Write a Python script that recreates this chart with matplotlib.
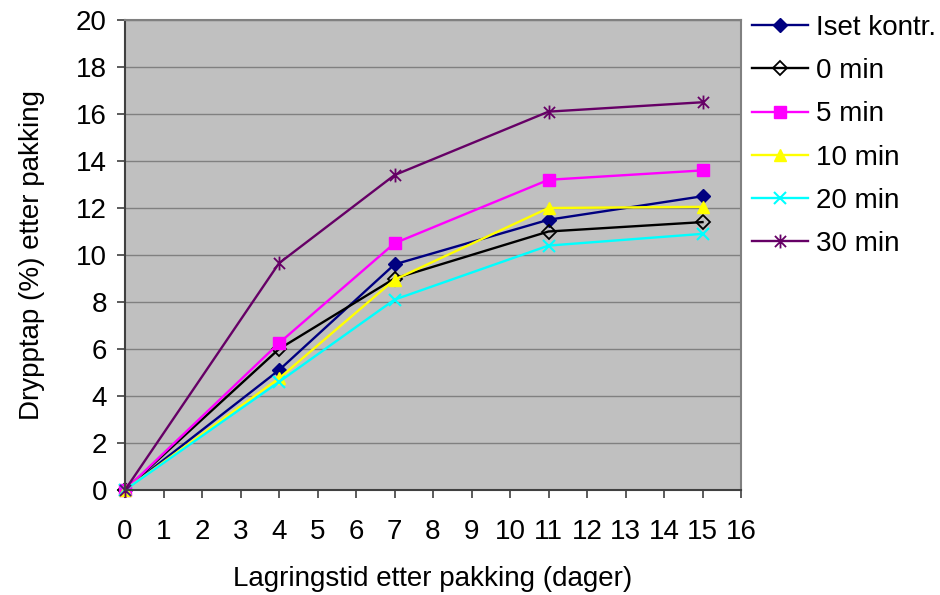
import matplotlib
matplotlib.use("Agg")
import matplotlib.pyplot as plt
from matplotlib.path import Path

plt.rcParams["font.family"] = ["Liberation Sans", "DejaVu Sans"]

days = [0, 4, 7, 11, 15]
series_names = ["Iset kontr.", "0 min", "5 min", "10 min", "20 min", "30 min"]
iset = [0, 5.1, 9.6, 11.5, 12.5]
min0 = [0, 6.0, 9.0, 11.0, 11.4]
min5 = [0, 6.25, 10.5, 13.2, 13.6]
min10 = [0, 4.75, 8.95, 12.0, 12.05]
min20 = [0, 4.6, 8.1, 10.4, 10.9]
min30 = [0, 9.65, 13.4, 16.1, 16.5]

# excel-style asterisk: x plus vertical bar
star = Path(
    [(0, -1), (0, 1), (-0.8, -0.8), (0.8, 0.8), (-0.8, 0.8), (0.8, -0.8)],
    [Path.MOVETO, Path.LINETO, Path.MOVETO, Path.LINETO, Path.MOVETO, Path.LINETO],
)

styles = [
    dict(color="#000080", marker="D", ms=7, mfc="#000080"),
    dict(color="black", marker="D", ms=7, mfc="none", mew=1.3),
    dict(color="#FF00FF", marker="s", ms=8, mfc="#FF00FF"),
    dict(color="#FFFF00", marker="^", ms=9, mfc="#FFFF00"),
    dict(color="#00FFFF", marker="x", ms=9, mew=1.5),
    dict(color="#660066", marker=star, ms=10, mew=1.3),
]

FS = 20

fig = plt.figure(figsize=(9.4, 5.95), dpi=100)
ax = fig.add_axes([125 / 940, 1 - 490 / 595, (741 - 125) / 940, (490 - 20) / 595])
ax.set_facecolor("#C0C0C0")

for name, vals, st in zip(series_names, [iset, min0, min5, min10, min20, min30], styles):
    ax.plot(days, vals, label=name, lw=1.7, clip_on=False, **st)

ax.set_xlim(0, 16)
ax.set_ylim(0, 20)
ax.set_xticks(range(0, 17))
ax.set_yticks(range(0, 21, 2))
ax.yaxis.grid(True, color="#808080", lw=1)
ax.set_axisbelow(True)
for s in ["left", "bottom"]:
    ax.spines[s].set_color("#404040")
    ax.spines[s].set_linewidth(1.5)
for s in ["top", "right"]:
    ax.spines[s].set_color("#808080")
    ax.spines[s].set_linewidth(1.5)
ax.tick_params(direction="out", length=6, width=1.2, color="#404040", labelsize=FS)
ax.tick_params(axis="x", pad=15)
ax.tick_params(axis="y", pad=7)

ax.set_xlabel("Lagringstid etter pakking (dager)", fontsize=FS, labelpad=15)
ax.set_ylabel("Drypptap (%) etter pakking", fontsize=FS, labelpad=22)

ax.legend(
    loc="upper left",
    bbox_to_anchor=(752 / 940, 1 - 15 / 595),
    bbox_transform=fig.transFigure,
    frameon=False,
    fontsize=FS,
    handlelength=2.0,
    handletextpad=0.3,
    labelspacing=0.62,
    borderaxespad=0,
    borderpad=0,
)

fig.savefig("out.png", dpi=100)
